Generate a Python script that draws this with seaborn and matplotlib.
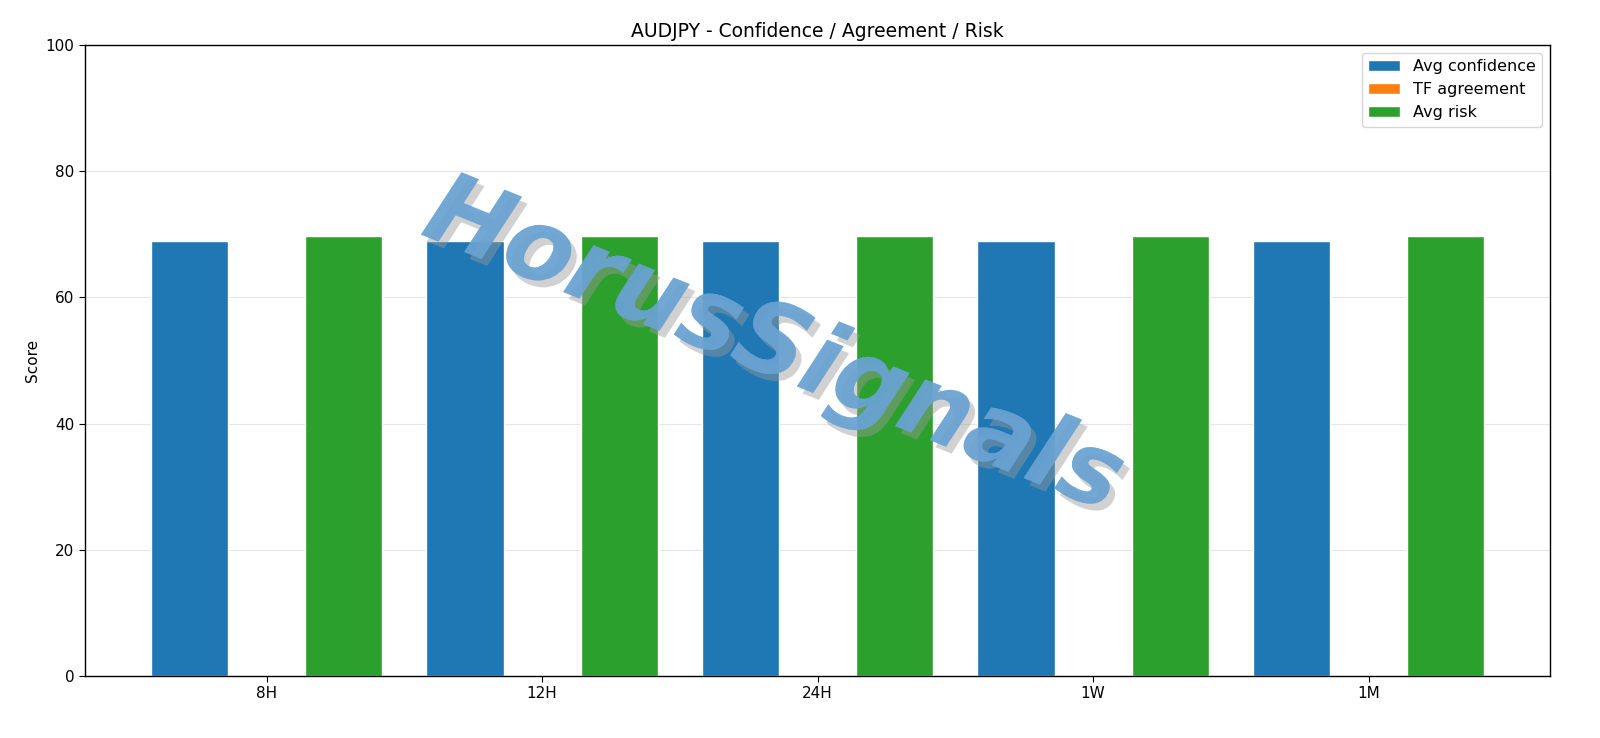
import numpy as np
import pandas as pd
import matplotlib
matplotlib.use('Agg')
import matplotlib.pyplot as plt
import matplotlib.patheffects as pe
import seaborn as sns

## data
timeframes = ["8H", "12H", "24H", "1W", "1M"]
avg_confidence = [68.9, 68.9, 68.9, 68.9, 68.9]
tf_agreement = [0, 0, 0, 0, 0]
avg_risk = [69.8, 69.8, 69.8, 69.8, 69.8]
series_names = ["Avg confidence", "TF agreement", "Avg risk"]

df = pd.DataFrame({
    "tf": timeframes * 3,
    "metric": [series_names[0]] * 5 + [series_names[1]] * 5 + [series_names[2]] * 5,
    "score": avg_confidence + tf_agreement + avg_risk,
})

sns.set_style("white")
plt.rcParams['font.family'] = ['DejaVu Sans']
plt.rcParams['text.color'] = 'black'
plt.rcParams['axes.labelcolor'] = 'black'
plt.rcParams['xtick.color'] = 'black'
plt.rcParams['ytick.color'] = 'black'

fig, ax = plt.subplots(figsize=(16, 7.38), dpi=100)
fig.subplots_adjust(left=0.053, right=0.969, top=0.939, bottom=0.084)

sns.barplot(data=df, x="tf", y="score", hue="metric", order=timeframes,
            hue_order=series_names, palette=["#1f77b4", "#ff7f0e", "#2ca02c"],
            width=0.84, gap=0, saturation=1, errorbar=None, ax=ax)

ax.set_ylim(0, 100)
ax.set_xlim(-0.66, 4.66)
ax.set_yticks(range(0, 101, 20))
ax.yaxis.grid(True, color="#e6e6e6", linewidth=0.8)
ax.set_axisbelow(True)
for s in ax.spines.values():
    s.set_color("black")
    s.set_linewidth(1)
ax.tick_params(axis="both", length=4, color="black", labelsize=11, left=True, bottom=True)
ax.set_xlabel("")
ax.set_ylabel("Score", fontsize=11)
ax.set_title("AUDJPY - Confidence / Agreement / Risk", fontsize=13.5)
ax.legend(loc="upper right", fontsize=11.5, title=None, frameon=True)

# watermark
ax.text(0.47, 0.52, "HorusSignals", transform=ax.transAxes, fontsize=72,
        rotation=-22, ha="center", va="center", color="#6aa3d3", alpha=0.75,
        fontweight="bold", fontstyle="italic",
        path_effects=[pe.withSimplePatchShadow(offset=(4, -5), shadow_rgbFace="#999999", alpha=0.45),
                      pe.Normal()])

fig.savefig("out.png", dpi=100)
